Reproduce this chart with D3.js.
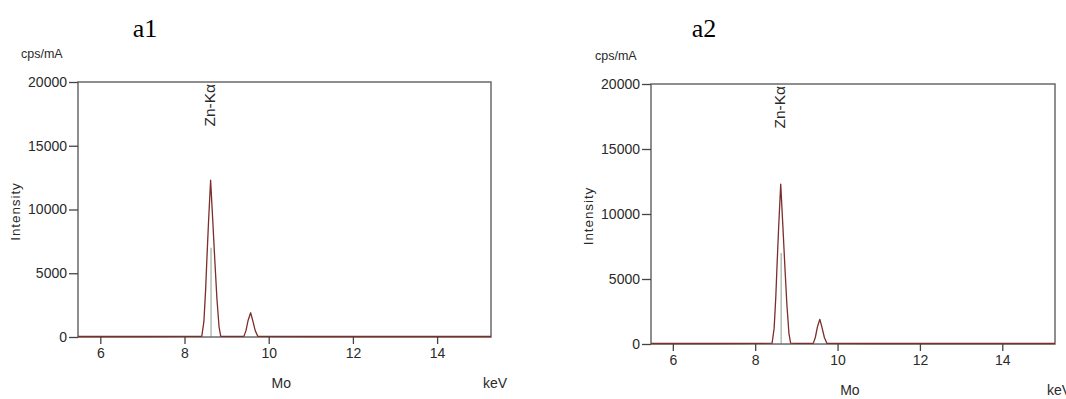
<!DOCTYPE html>
<html>
<head>
<meta charset="utf-8">
<script src="https://cdn.jsdelivr.net/npm/d3@7"></script>
<style>
  body { margin: 0; background: #fff; }
  text { font-family: "Liberation Sans", Arial, sans-serif; fill: #2a2a2a; }
</style>
</head>
<body>
<script>
// spectrum samples (keV, cps/mA)
var energy    = [5.47, 7.0, 8.0, 8.41, 8.46, 8.50, 8.53, 8.57, 8.62, 8.67, 8.72, 8.77, 8.82, 8.86, 9.0, 9.41, 9.46, 9.51, 9.57, 9.62, 9.68, 9.74, 11.0, 13.0, 15.28];
var intensity = [40, 40, 50, 60, 1200, 3600, 6000, 9000, 12300, 9200, 6000, 3000, 800, 60, 50, 50, 500, 1300, 1900, 1300, 500, 50, 40, 40, 40];

var xTicks = [6, 8, 10, 12, 14];
var yTicks = [0, 5000, 10000, 15000, 20000];
var panelTitles = ["a1", "a2"];
var peakName = "Zn-Kα";
var peakE = 8.63;

var W = 1066, H = 399;
var svg = d3.select("body").append("svg")
  .attr("width", W).attr("height", H);

// where each plot box sits on the page
var boxes = [
  { l: 78,  r: 491,  t: 82, b: 337, titleX: 145, unitX: 21 },
  { l: 651, r: 1055, t: 84, b: 344, titleX: 704, unitX: 595 }
];

var data = energy.map(function (e, i) { return { e: e, v: intensity[i] }; });

boxes.forEach(function (bx, k) {
  var x = d3.scaleLinear().domain([5.47, 15.28]).range([bx.l, bx.r]);
  var y = d3.scaleLinear().domain([0, 20000]).range([bx.b, bx.t]);
  var g = svg.append("g");

  g.append("text")
    .attr("x", bx.titleX).attr("y", 37)
    .attr("text-anchor", "middle")
    .style("font-family", "'Liberation Serif', 'Times New Roman', serif")
    .style("font-size", "26px").style("fill", "#000")
    .text(panelTitles[k]);

  g.append("text")
    .attr("x", bx.unitX).attr("y", bx.t - 24)
    .style("font-size", "12.5px")
    .text("cps/mA");

  // marker line for the peak (only shows inside the peak)
  g.append("line")
    .attr("x1", x(peakE)).attr("x2", x(peakE))
    .attr("y1", y(7000)).attr("y2", bx.b)
    .attr("stroke", "#8e9c8e").attr("stroke-width", 1);

  // frame
  g.append("rect")
    .attr("x", bx.l).attr("y", bx.t)
    .attr("width", bx.r - bx.l).attr("height", bx.b - bx.t)
    .attr("fill", "none").attr("stroke", "#6a6a6a").attr("stroke-width", 1.5);

  var ya = g.append("g")
    .attr("transform", "translate(" + bx.l + ",0)")
    .call(d3.axisLeft(y).tickValues(yTicks).tickFormat(d3.format("d")).tickSize(9).tickPadding(2));
  var xa = g.append("g")
    .attr("transform", "translate(0," + bx.b + ")")
    .call(d3.axisBottom(x).tickValues(xTicks).tickFormat(d3.format("d")).tickSize(7).tickPadding(4));
  [ya, xa].forEach(function (a) {
    a.select(".domain").remove();
    a.selectAll("line").attr("stroke", "#444").attr("stroke-width", 1.3);
    a.selectAll("text").style("font-size", "14px").style("fill", "#2a2a2a")
      .style("font-family", "'Liberation Sans', Arial, sans-serif");
  });

  g.append("text")
    .attr("transform", "translate(" + (bx.l - 58) + "," + ((bx.t + bx.b) / 2 + 2) + ") rotate(-90)")
    .attr("text-anchor", "middle")
    .style("font-size", "13.5px").style("letter-spacing", "0.9px")
    .text("Intensity");

  g.append("text")
    .attr("transform", "translate(" + (x(peakE) + 4) + "," + (bx.t + 2) + ") rotate(-90)")
    .attr("text-anchor", "end")
    .style("font-size", "15.5px")
    .text(peakName);

  g.append("text")
    .attr("x", x(10.3)).attr("y", bx.b + 51)
    .attr("text-anchor", "middle")
    .style("font-size", "14px")
    .text("Mo");
  g.append("text")
    .attr("x", bx.r - 8).attr("y", bx.b + 51)
    .style("font-size", "14px")
    .text("keV");

  var line = d3.line().x(function (d) { return x(d.e); }).y(function (d) { return y(d.v); });
  g.append("path").datum(data)
    .attr("d", line)
    .attr("fill", "none")
    .attr("stroke", "#7b2e2a").attr("stroke-width", 1.3)
    .attr("stroke-linejoin", "round");
});
</script>
</body>
</html>
